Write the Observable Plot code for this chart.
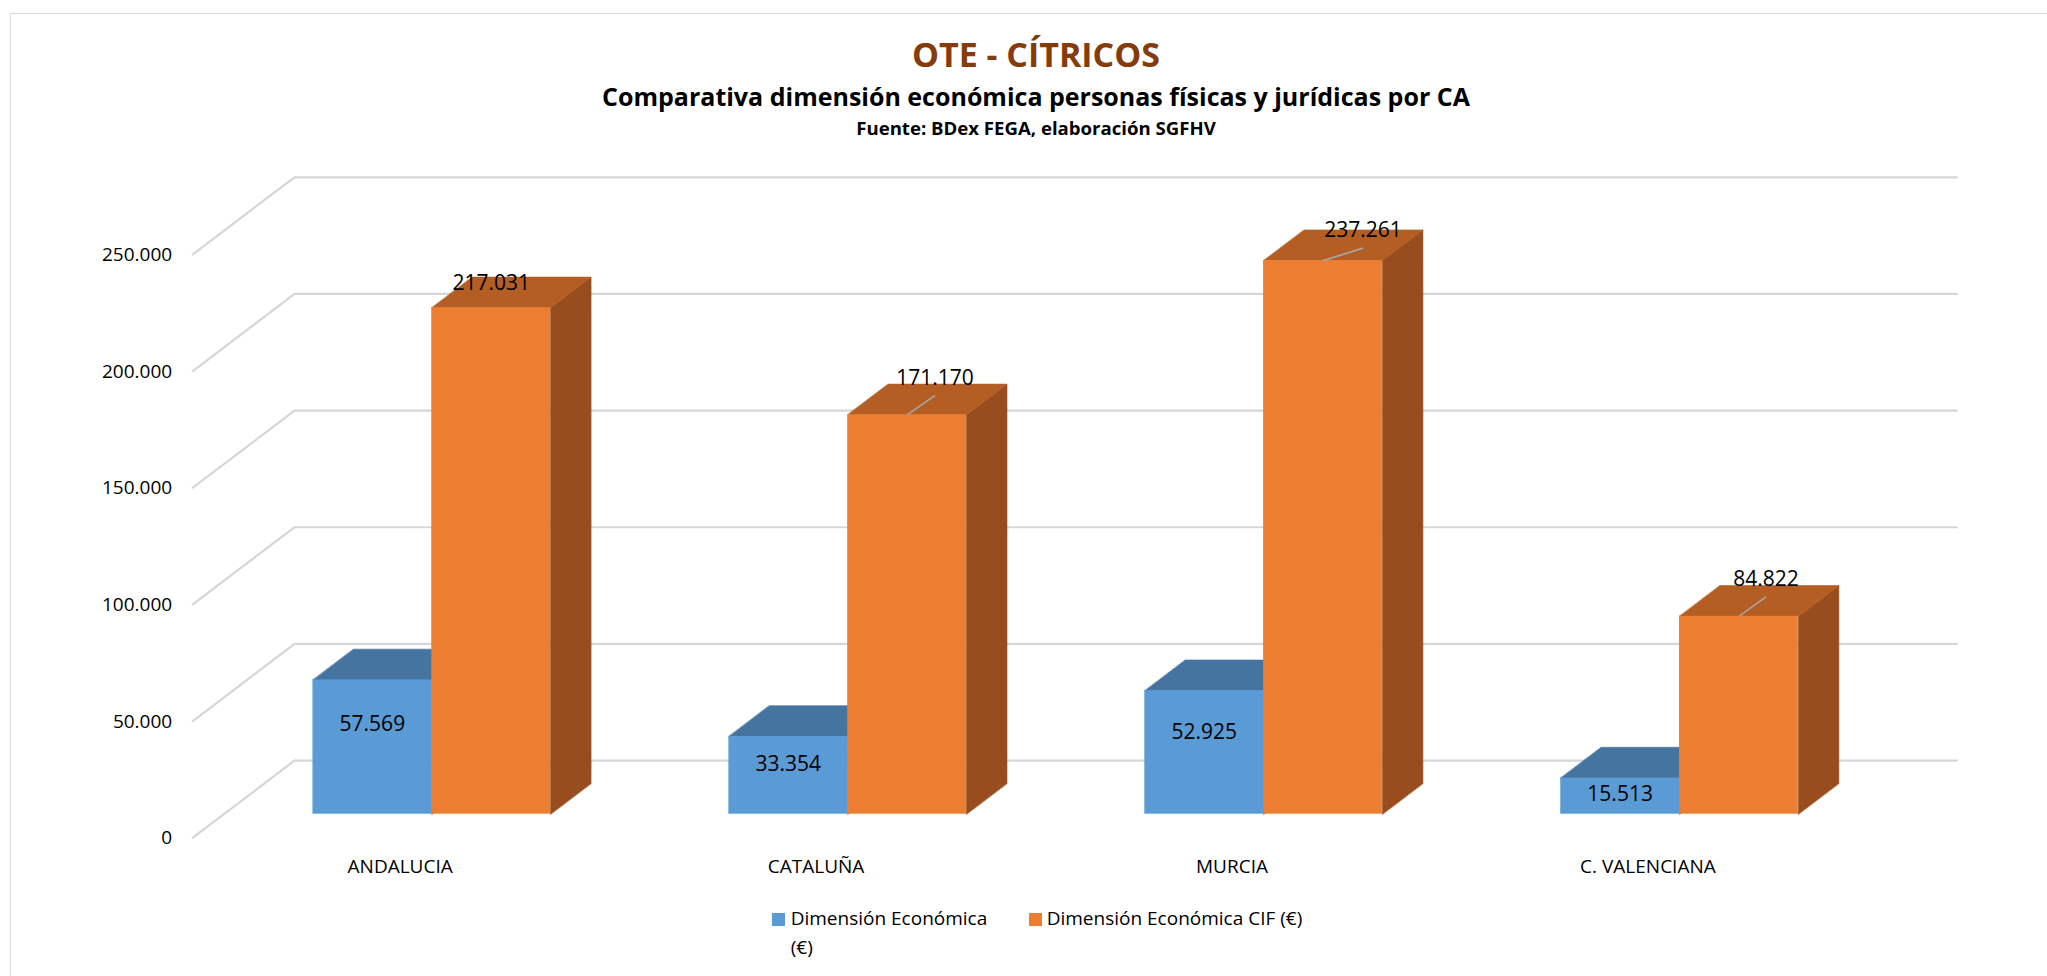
<!DOCTYPE html>
<html>
<head>
<meta charset="utf-8">
<script src="https://cdn.jsdelivr.net/npm/d3@7"></script>
<script src="https://cdn.jsdelivr.net/npm/@observablehq/plot@0.6"></script>
<style>
  html, body { margin: 0; padding: 0; background: #fff; overflow: hidden; width: 2047px; height: 976px; }
  body { position: relative; font-family: "Open Sans", sans-serif; }
  #frame { position: absolute; left: 10px; top: 13px; width: 2200px; height: 1200px; border: 1.5px solid #d9d9d9; box-sizing: border-box; }
  .t { position: absolute; left: 0; width: 2072px; text-align: center; font-weight: 700; white-space: nowrap; }
  #title { top: 34px; font-size: 34px; line-height: 40px; color: #843C0C; }
  #sub { top: 80px; font-size: 25px; line-height: 32px; color: #000; }
  #src { top: 116px; font-size: 18.6px; line-height: 24px; color: #000; }
  #chart { position: absolute; left: 0; top: 150px; }
  .leg { position: absolute; top: 903.7px; font-size: 19px; line-height: 29px; color: #000; }
  .sw { position: absolute; top: 913.3px; width: 12.7px; height: 12.7px; }
</style>
</head>
<body>
<div id="frame"></div>
<div class="t" id="title">OTE - CÍTRICOS</div>
<div class="t" id="sub">Comparativa dimensión económica personas físicas y jurídicas por CA</div>
<div class="t" id="src">Fuente: BDex FEGA, elaboración SGFHV</div>
<div id="chart"></div>
<div id="legend"></div>
<script>
// ---------- data ----------
const categories = ["ANDALUCIA", "CATALUÑA", "MURCIA", "C. VALENCIANA"];
const dimEconomica = [57569, 33354, 52925, 15513];
const dimEconomicaCIF = [217031, 171170, 237261, 84822];
const seriesNames = ["Dimensión Económica (€)", "Dimensión Económica CIF (€)"];
const yTicks = [0, 50000, 100000, 150000, 200000, 250000];

// ---------- layout / style ----------
const seriesColors = [
  {front: "#5B9BD5", top: "#44749F", side: "#3E6A93"},
  {front: "#ED7D31", top: "#B55E23", side: "#984D1E"}
];
const cifLabelNudge = [[0, -25], [28, -37], [40, -30], [27, -37]]; // px, label centre vs front-top centre
const W = 2047, H = 740;
const X0 = 223.3, X1 = 1887;      // bar-plane range of the category axis
const Y0 = 663.7, Y1 = 80.4;      // bar-plane pixel of 0 and of 250.000
const yMax = 250000;
const band = (X1 - X0) / categories.length;
const pxPerVal = (Y0 - Y1) / yMax;
const px = p => p / band;          // pixels -> x units
const py = p => p / pxPerVal;      // pixels -> value units
const depth = {x: px(102.3), y: py(77.6)};   // full floor depth
const fFront = 0.309, fBar = 0.396;          // bar front plane / bar depth as fractions of floor depth
const barW = px(118.8);
const frontX = -fFront * depth.x, frontY = -fFront * depth.y;
const backX = (1 - fFront) * depth.x, backY = (1 - fFront) * depth.y;
const bdx = fBar * depth.x, bdy = fBar * depth.y;

const fmt = d3.formatLocale({decimal: ",", thousands: ".", grouping: [3], currency: ["", " €"]}).format(",d");

// ---------- derived tables ----------
const bars = [];
categories.forEach((c, i) => {
  [dimEconomica[i], dimEconomicaCIF[i]].forEach((v, s) => {
    const x1 = i + 0.5 + (s - 1) * barW;
    bars.push({c, i, s, v, x1, x2: x1 + barW, cx: x1 + barW / 2});
  });
});
const poly = (b, pts) => pts.map(([x, y]) => ({id: b.i + "-" + b.s, s: b.s, x, y}));
const tops = bars.flatMap(b => poly(b, [[b.x1, b.v], [b.x2, b.v], [b.x2 + bdx, b.v + bdy], [b.x1 + bdx, b.v + bdy]]));
const sides = bars.flatMap(b => poly(b, [[b.x2, 0], [b.x2, b.v], [b.x2 + bdx, b.v + bdy], [b.x2 + bdx, bdy]]));

const marks = [
  // back wall gridlines
  Plot.ruleY(yTicks, {y: d => d + backY, x1: () => backX, x2: () => categories.length + backX, stroke: "#d6d6d6", strokeWidth: 2.2}),
  // side wall gridlines
  Plot.link(yTicks, {x1: () => frontX, y1: d => d + frontY, x2: () => backX, y2: d => d + backY, stroke: "#d6d6d6", strokeWidth: 2.2}),
  // y tick labels
  Plot.text(yTicks, {x: () => frontX, y: d => d + frontY, text: d => fmt(d), textAnchor: "end", dx: -20, fontSize: 19, fill: "#000"}),
  // category labels
  Plot.text(categories, {x: (d, i) => i + 0.5 + frontX, y: () => frontY - py(29), text: d => d, fontSize: 19, fill: "#000"})
];
[0, 1].forEach(s => {
  const col = seriesColors[s];
  marks.push(
    Plot.line(sides.filter(d => d.s === s), {x: "x", y: "y", z: "id", curve: "linear-closed", fill: col.side, stroke: col.side, strokeWidth: 0.6}),
    Plot.line(tops.filter(d => d.s === s), {x: "x", y: "y", z: "id", curve: "linear-closed", fill: col.top, stroke: col.top, strokeWidth: 0.6}),
    Plot.rect(bars.filter(d => d.s === s), {x1: "x1", x2: "x2", y1: () => 0, y2: "v", fill: col.front})
  );
});
const blueBars = bars.filter(d => d.s === 0);
const cifBars = bars.filter(d => d.s === 1);
marks.push(
  Plot.text(blueBars, {x: "cx", y: d => 0.707 * d.v - 2320, text: d => fmt(d.v), fontSize: 21, fill: "#000"}),
  Plot.link(cifBars.filter(d => cifLabelNudge[d.i][0] !== 0), {
    x1: "cx", y1: "v",
    x2: d => d.cx + px(cifLabelNudge[d.i][0]),
    y2: d => d.v + py(-cifLabelNudge[d.i][1] - 17.5),
    stroke: "#a6a6a6", strokeWidth: 1.6
  }),
  Plot.text(cifBars, {
    x: d => d.cx + px(cifLabelNudge[d.i][0]),
    y: d => d.v + py(-cifLabelNudge[d.i][1]),
    text: d => fmt(d.v), fontSize: 21, fill: "#000"
  })
);

const chart = Plot.plot({
  width: W, height: H, margin: 0,
  x: {type: "linear", domain: [0, categories.length], range: [X0, X1], axis: null},
  y: {type: "linear", domain: [0, yMax], range: [Y0, Y1], axis: null},
  style: {fontFamily: "Open Sans, sans-serif", background: "none", overflow: "visible"},
  marks
});
document.getElementById("chart").appendChild(chart);

// ---------- legend ----------
const legendLayout = [{sw: 772, text: 790.7, width: "215px", ws: "normal"}, {sw: 1029.3, text: 1046.7, width: "auto", ws: "nowrap"}];
const leg = document.getElementById("legend");
seriesNames.forEach((name, s) => {
  const L = legendLayout[s];
  const sw = document.createElement("div");
  sw.className = "sw"; sw.style.left = L.sw + "px"; sw.style.background = seriesColors[s].front;
  const tx = document.createElement("div");
  tx.className = "leg"; tx.style.left = L.text + "px"; tx.style.width = L.width; tx.style.whiteSpace = L.ws;
  tx.textContent = name;
  leg.appendChild(sw); leg.appendChild(tx);
});
</script>
</body>
</html>
